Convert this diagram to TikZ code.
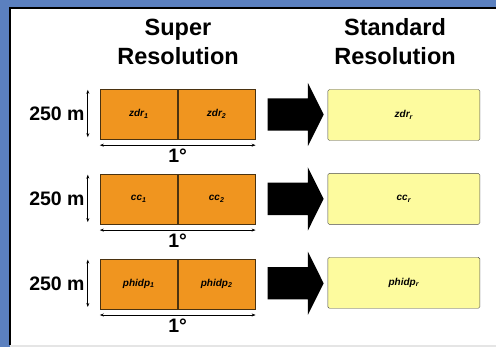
\documentclass[tikz,border=0pt]{standalone}
\usepackage{fontspec}
\setmainfont{Liberation Sans}
\usetikzlibrary{arrows.meta,positioning,calc,shapes.arrows}
\definecolor{frameblue}{HTML}{5B80BF}
\definecolor{cellorange}{HTML}{F0951F}
\definecolor{cellborder}{HTML}{4A3210}
\definecolor{respale}{HTML}{FDFB9E}
\newcommand{\fld}[2]{\itshape #1\textsubscript{#2}}

\begin{document}
\begin{tikzpicture}[
  x=1pt,y=-1pt,
  title/.style={font=\fontsize{23.5}{29}\selectfont\bfseries,align=center},
  cell/.style={draw=cellborder,fill=cellorange,minimum width=77.5pt,minimum height=50pt,inner sep=0pt,font=\fontsize{10}{12}\selectfont\bfseries},
  res/.style={draw=black!70,fill=respale,rounded corners=1.5pt,minimum width=152pt,minimum height=51pt,inner sep=0pt,font=\fontsize{10}{12}\selectfont\bfseries},
  dim/.style={inner sep=0pt,font=\fontsize{19.5}{24}\selectfont\bfseries},
  dimarr/.style={{Stealth[length=4pt,width=3pt]}-{Stealth[length=4pt,width=3pt]},line width=0.7pt},
  bigarrow/.style={single arrow,fill=black,inner xsep=0pt,inner ysep=16pt,minimum height=56pt,single arrow head extend=15.5pt,single arrow tip angle=127}
]
  \useasboundingbox (0,0) rectangle (496,347);
  \fill[frameblue] (0,0) rectangle (496,347);
  \fill[black!10] (10,345) rectangle (496,347);
  \fill[white] (10,8) rectangle (496,345);
  \draw[line width=2pt] (496,8) -- (10,8) -- (10,345);

  \node[title] (super) at (178,42) {Super\\Resolution};
  \node[title] (std) at (395,42) {Standard\\Resolution};

  % super resolution cells
  \node[cell] (zdr1) at (138.75,114) {\fld{zdr}{1}};
  \node[cell,right=0pt of zdr1] (zdr2) {\fld{zdr}{2}};
  \node[cell,below=34.5pt of zdr1] (cc1) {\fld{cc}{1}};
  \node[cell,right=0pt of cc1] (cc2) {\fld{cc}{2}};
  \node[cell,below=34.5pt of cc1] (phidp1) {\fld{phidp}{1}};
  \node[cell,right=0pt of phidp1] (phidp2) {\fld{phidp}{2}};

  % standard resolution
  \node[res,right=72pt of zdr2,yshift=-1pt] (zdrr) {\fld{zdr}{r}};
  \node[res,right=72pt of cc2] (ccr) {\fld{cc}{r}};
  \node[res,right=72pt of phidp2,yshift=1pt] (phidpr) {\fld{phidp}{r}};

  \node[bigarrow] (arr1) at ($(zdr2.east)!0.5!(zdrr.west)$) {};
  \node[bigarrow] (arr2) at ($(cc2.east)!0.5!(ccr.west)$) {};
  \node[bigarrow] (arr3) at ($(phidp2.east)!0.5!(phidpr.west)$) {};

  % range and azimuth extents
  \node[dim,left=15pt of zdr1] (rng1) {250 m};
  \node[dim,left=15pt of cc1] (rng2) {250 m};
  \node[dim,left=15pt of phidp1] (rng3) {250 m};
  \draw[dimarr] ([xshift=-12pt,yshift=-1pt]zdr1.north west) -- ([xshift=-12pt,yshift=2pt]zdr1.south west);
  \draw[dimarr] ([xshift=-12pt,yshift=-1pt]cc1.north west) -- ([xshift=-12pt,yshift=2pt]cc1.south west);
  \draw[dimarr] ([xshift=-12pt,yshift=-1pt]phidp1.north west) -- ([xshift=-12pt,yshift=2pt]phidp1.south west);
  \draw[dimarr] ([yshift=-6pt]zdr1.south west) -- ([yshift=-6pt]zdr2.south east);
  \draw[dimarr] ([yshift=-6pt]cc1.south west) -- ([yshift=-6pt]cc2.south east);
  \draw[dimarr] ([yshift=-6pt]phidp1.south west) -- ([yshift=-6pt]phidp2.south east);
  \node[dim] (deg1) at ([yshift=-17pt]zdr1.south east) {1°};
  \node[dim] (deg2) at ([yshift=-17pt]cc1.south east) {1°};
  \node[dim] (deg3) at ([yshift=-17pt]phidp1.south east) {1°};
\end{tikzpicture}
\end{document}
